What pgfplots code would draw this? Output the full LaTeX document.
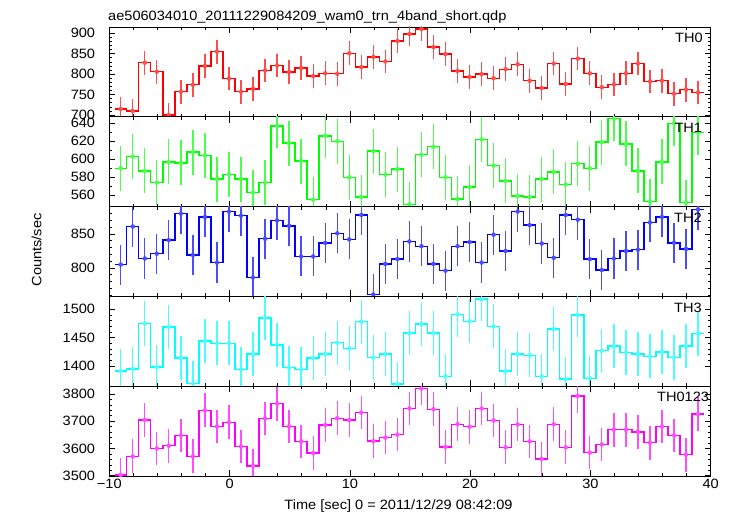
\documentclass[border=0pt]{standalone}
\usepackage{fontspec}
\setmainfont{Liberation Sans}[FakeStretch=1.08]
\usepackage{pgfplots}
\usepackage{pgfplotstable}
\pgfplotsset{compat=1.18}

\definecolor{cR}{RGB}{255,0,0}
\definecolor{cG}{RGB}{0,255,0}
\definecolor{cB}{RGB}{0,0,255}
\definecolor{cC}{RGB}{0,255,255}
\definecolor{cM}{RGB}{255,0,255}

% t = left edge of 1 s bin; last row repeats the last bin to close the step
\pgfplotstableread{
t th0 th1 th2 th3 th0123
-9.55 715 590 805 1391 3503
-8.55 710 603 861 1395 3571
-7.55 828 587 814 1475 3705
-6.55 806 574 821 1398 3600
-5.55 700 597 841 1469 3610
-4.55 757 596 880 1414 3648
-3.55 774 608 819 1369 3571
-2.55 820 604 875 1444 3740
-1.55 855 578 808 1440 3681
-0.55 789 583 883 1440 3696
0.45 757 578 877 1394 3607
1.45 764 563 786 1421 3536
2.45 809 574 843 1485 3710
3.45 821 637 870 1437 3764
4.45 805 618 862 1397 3681
5.45 815 598 817 1394 3626
6.45 795 555 817 1414 3583
7.45 802 626 837 1421 3686
8.45 801 620 851 1441 3711
9.45 851 580 842 1431 3704
10.45 817 558 878 1478 3732
11.45 842 609 761 1415 3627
12.45 831 583 806 1421 3640
13.45 881 589 813 1368 3651
14.45 898 550 839 1458 3747
15.45 910 605 832 1474 3820
16.45 866 614 806 1458 3744
17.45 849 580 796 1382 3606
18.45 808 556 832 1491 3689
19.45 793 569 838 1479 3680
20.45 800 622 808 1518 3747
21.45 790 593 849 1470 3703
22.45 812 576 825 1391 3604
23.45 824 559 883 1421 3688
24.45 784 558 863 1419 3626
25.45 766 578 836 1382 3562
26.45 826 586 815 1465 3689
27.45 776 572 878 1377 3604
28.45 838 595 871 1490 3793
29.45 802 590 813 1378 3585
30.45 768 619 797 1427 3615
31.45 775 645 814 1435 3669
32.45 802 617 825 1424 3669
33.45 826 587 827 1421 3661
34.45 782 553 867 1417 3621
35.45 784 597 875 1425 3681
36.45 752 640 837 1415 3648
37.45 762 552 828 1435 3577
38.45 755 630 886 1457 3726
39.45 755 630 886 1457 3726
}\lc

\pgfplotsset{
  panel/.style={
    scale only axis, width=601.4pt, height=89.8pt, anchor=south west,
    xmin=-10, xmax=40, clip mode=individual,
    xtick={-10,0,10,20,30,40}, minor x tick num=4,
    xticklabels={},
    tick align=inside,
    major tick length=6pt, minor tick length=3pt,
    every tick/.style={black, line width=0.6pt},
    axis line style={black, line width=0.7pt},
    /pgf/number format/assume math mode=true,
    /pgf/number format/1000 sep={},
    yticklabel style={anchor=east, inner sep=0pt, xshift=-14pt},
  },
  stepline/.style={const plot mark left, mark=none, line width=1.4pt, color=#1},
  errbar/.style n args={2}{color=#1!70!white, only marks, mark=none, forget plot,
    skip coords between index={49}{50},
    /pgfplots/error bars/y dir=both, /pgfplots/error bars/y fixed=#2,
    /pgfplots/error bars/error mark=none,
    /pgfplots/error bars/error bar style={line width=1.3pt}},
}
\tikzset{thlabel/.style={anchor=base west, inner sep=0pt, xshift=#1, yshift=-15.8pt}}

\begin{document}
\fontsize{13.5}{16}\selectfont
\begin{tikzpicture}
\path[use as bounding box] (0,0) rectangle (731pt,516pt);

% TH0
\begin{axis}[panel, at={(109.3pt,399.2pt)}, ymin=695.6, ymax=915.4,
  ytick={700,750,800,850,900}, minor y tick num=4]
\addplot[stepline=cR] table[x=t, y=th0] {\lc};
\addplot[errbar={cR}{29}] table[x expr=\thisrow{t}+0.5, y=th0] {\lc};
\node[thlabel=565.7pt] at (rel axis cs:0,1) {TH0};
\end{axis}

% TH1
\begin{axis}[panel, at={(109.3pt,309.4pt)}, ymin=547.4, ymax=647.2,
  ytick={560,580,600,620,640}, minor y tick num=1]
\addplot[stepline=cG] table[x=t, y=th1] {\lc};
\addplot[errbar={cG}{25}] table[x expr=\thisrow{t}+0.5, y=th1] {\lc};
\node[thlabel=565pt] at (rel axis cs:0,1) {TH1};
\end{axis}

% TH2
\begin{axis}[panel, at={(109.3pt,219.6pt)}, ymin=758.2, ymax=890.3,
  ytick={750,800,850,900}, minor y tick num=4]
\addplot[stepline=cB] table[x=t, y=th2] {\lc};
\addplot[errbar={cB}{29.5}] table[x expr=\thisrow{t}+0.5, y=th2] {\lc};
\node[thlabel=564.7pt] at (rel axis cs:0,1) {TH2};
\end{axis}

% TH3
\begin{axis}[panel, at={(109.3pt,129.8pt)}, ymin=1364.4, ymax=1522.8,
  ytick={1400,1450,1500}, minor y tick num=4]
\addplot[stepline=cC] table[x=t, y=th3] {\lc};
\addplot[errbar={cC}{39}] table[x expr=\thisrow{t}+0.5, y=th3] {\lc};
\node[thlabel=564.7pt] at (rel axis cs:0,1) {TH3};
\end{axis}

% TH0123
\begin{axis}[panel, at={(109.3pt,40pt)}, ymin=3499, ymax=3828.6,
  ytick={3500,3600,3700,3800}, minor y tick num=4,
  xticklabels={−10,0,10,20,30,40},
  xticklabel style={anchor=base, yshift=-12.5pt}]
\addplot[stepline=cM] table[x=t, y=th0123] {\lc};
\addplot[errbar={cM}{62}] table[x expr=\thisrow{t}+0.5, y=th0123] {\lc};
\node[thlabel=547.7pt] at (rel axis cs:0,1) {TH0123};
\end{axis}

\node[anchor=base west, inner sep=0pt] at (108pt,495.5pt) {ae506034010\_20111229084209\_wam0\_trn\_4band\_short.qdp};
\node[anchor=base, rotate=90, inner sep=0pt] at (41.5pt,266pt) {Counts/sec};
\node[anchor=base, inner sep=0pt] at (398.5pt,6.5pt) {Time [sec] 0 = 2011/12/29 08:42:09};
\end{tikzpicture}
\end{document}
